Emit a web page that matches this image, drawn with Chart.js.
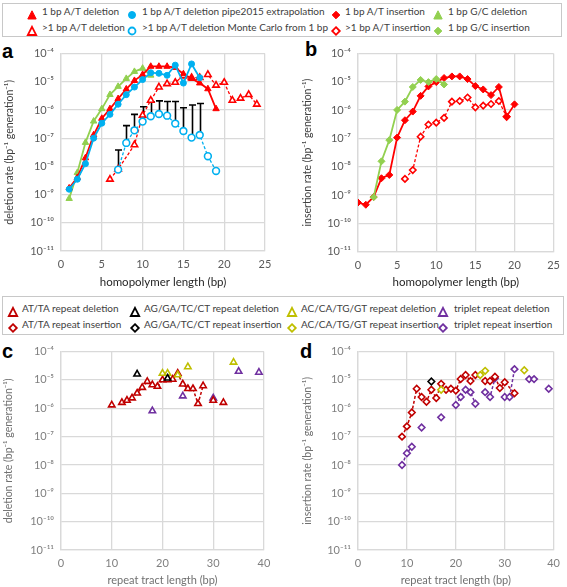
<!DOCTYPE html>
<html>
<head>
<meta charset="utf-8">
<script src="https://cdn.jsdelivr.net/npm/chart.js@4.4.1/dist/chart.umd.min.js"></script>
<style>
  body { margin: 0; background: #fff; }
  #fig { position: relative; width: 567px; height: 587px; overflow: hidden; font-family: Lato, 'Noto Sans', sans-serif; }
  #fig canvas { position: absolute; }
  .legend { position: absolute; border: 1px solid #c8c8c8; background: #fff; box-sizing: border-box; }
  .item { position: absolute; font-size: 10px; color: #404040; white-space: nowrap; line-height: 14px; }
  .mark { position: absolute; }
  .lbl { position: absolute; font: bold 20px 'Liberation Sans', Arial, sans-serif; color: #000; line-height: 20px; }
</style>
</head>
<body>
<div id="fig">
  <div class="legend" id="leg1" style="left:2px;top:3px;width:560px;height:34px"></div>
  <div class="legend" id="leg2" style="left:2px;top:296px;width:562px;height:39px"></div>
  <div class="lbl" style="left:2px;top:41px">a</div>
  <div class="lbl" style="left:305px;top:39px">b</div>
  <div class="lbl" style="left:2px;top:341px">c</div>
  <div class="lbl" style="left:300px;top:341px">d</div>
  <canvas id="chartA" width="285" height="252" style="left:0;top:40px"></canvas>
  <canvas id="chartB" width="277" height="252" style="left:290px;top:40px"></canvas>
  <canvas id="chartC" width="285" height="249" style="left:0;top:338px"></canvas>
  <canvas id="chartD" width="277" height="249" style="left:290px;top:338px"></canvas>
</div>
<script>
'use strict';

// ── Panel a: homopolymer deletions ────────────────────────
const delAT1X = [1,2,3,4,5,6,7,8,9,10,11,12,13,14,15,16,17,18,19];
const delAT1  = [1.7e-9,4e-9,2e-8,1.3e-7,5e-7,1.1e-6,2.5e-6,5.5e-6,1.1e-5,1.8e-5,3.5e-5,3.5e-5,3.5e-5,3.2e-5,1.9e-5,1.3e-5,9e-6,5.6e-6,1.1e-6];
const pipeX   = [1,2,3,4,5,6,7,8,9,10,11,12,13,14,15,16,17];
const pipeDel = [1.55e-9,3.5e-9,1.25e-8,1e-7,3.4e-7,7e-7,1.6e-6,3.5e-6,6.5e-6,1.2e-5,2.1e-5,2e-5,1.7e-5,3.9e-5,9e-6,4.3e-5,1.4e-5];
const delGC1X = [1,2,3,4,5,6,7,8,9,10,11];
const delGC1  = [7.2e-10,6e-9,7e-8,4e-7,1.1e-6,3.5e-6,6.8e-6,1.3e-5,2.3e-5,3e-5,1.7e-5];
const delATmX = [6,7,9,10,11,12,13,14,15,16,17,18,19,20,21,22,23,24];
const delATm  = [3.5e-9,8e-9,5.8e-8,6.5e-7,2.2e-6,6.5e-6,8.5e-6,9.5e-6,1.6e-5,1.4e-5,1.4e-5,1.8e-5,7.5e-6,9.5e-6,2.2e-6,2.6e-6,3.5e-6,1.6e-6];
const mcX     = [7,8,9,10,11,12,13,14,15,16,17,18,19];
const mcDel   = [7.7e-9,6.8e-8,1.9e-7,3.9e-7,6e-7,7.2e-7,6.3e-7,3.3e-7,1.8e-7,1.05e-7,1.3e-7,2.3e-8,6.9e-9];
const mcUpper = [3.8e-8,2.8e-7,7e-7,1.3e-6,1.9e-6,2.1e-6,2e-6,2e-6,1.2e-6,1.5e-6,1.7e-6];

// ── Panel b: homopolymer insertions ───────────────────────
const insAT1X = [0,1,2,3,4,5,6,7,8,9,10,11,12,13,14,15,16,17,18,19,20];
const insAT1  = [5.4e-10,4.5e-10,8.5e-10,3.9e-9,5.1e-9,1.07e-7,4.4e-7,8.9e-7,3.2e-6,6.9e-6,9.8e-6,1.37e-5,1.56e-5,1.56e-5,1.26e-5,7.1e-6,5.4e-6,3.4e-6,6.6e-6,6e-7,1.6e-6];
const insGC1X = [2,3,4,5,6,7,8,9,10,11];
const insGC1  = [8.3e-10,1.55e-8,8.7e-8,1.02e-6,2e-6,6.6e-6,1.17e-5,9.8e-6,1.26e-5,8.1e-6];
const insATmX = [6,7,8,9,10,11,12,13,14,15,16,17,18,19];
const insATm  = [3.7e-9,7.6e-9,1.15e-7,3.1e-7,3.6e-7,5.3e-7,2e-6,2.1e-6,2.8e-6,1.26e-6,1.45e-6,1.65e-6,2.1e-6,5.8e-7];

// ── Panel c: repeat tract deletions ───────────────────────
const atDelX  = [10,11,12,13,14,15,16,17,18,19,20,21,22,23,24,25,26,27,28,29,30,31,32];
const atDel   = [1.3e-6,null,1.6e-6,1.9e-6,2.3e-6,3.4e-6,5.4e-6,8.8e-6,6.7e-6,5.9e-6,1e-5,1e-5,1.05e-5,1.7e-5,7.1e-6,4.9e-6,4.9e-6,1.45e-6,6.2e-6,null,1.9e-6,null,1.6e-6];
const agDelX  = [15,21];
const agDel   = [1.6e-5,1.15e-5];
const acDelX  = [20,21,23,25,34];
const acDel   = [1.7e-5,1.7e-5,1.5e-5,2.9e-5,4.2e-5];
const triDelX = [18,24,30,35,39];
const triDel  = [8.1e-7,2.7e-6,2.3e-6,2e-5,1.85e-5];

// ── Panel d: repeat tract insertions ──────────────────────
const atInsX  = [9,10,11,12,13,14,15,16,17,18,19,20,21,22,23,24,26,27,28,29,30,32];
const atIns   = [1e-7,2.3e-7,7.1e-7,4.9e-6,2.5e-6,1.7e-6,4.5e-6,2.3e-6,7.3e-6,4.5e-6,4.9e-6,4.2e-6,1.08e-5,1.5e-5,9.2e-6,1.5e-5,9.2e-6,9.2e-6,1.3e-5,5.2e-6,8.3e-6,3.4e-6];
const agInsX  = [15];
const agIns   = [8.8e-6];
const acInsX  = [17,18,25,26,27,34];
const acIns   = [4.5e-6,null,1.5e-5,2.1e-5,null,2.2e-5];
const triInsX = [9,10,11,12,13,14,17,18,20,21,22,23,24,25,26,27,28,29,30,31,32,33,35,36,37,39];
const triIns  = [1e-8,2.6e-8,4.4e-8,null,2.1e-7,null,4.8e-7,null,1.3e-6,2.5e-6,4.5e-6,3.7e-6,1.45e-6,null,3.7e-6,2.5e-6,1.15e-5,null,2.5e-6,2.5e-6,2.4e-5,null,1.07e-5,1.07e-5,null,4.9e-6];

// ── Axis ticks ────────────────────────────────────────────
const rateTicks = [1e-11,1e-10,1e-9,1e-8,1e-7,1e-6,1e-5,1e-4];
const hpTicks   = [0,5,10,15,20,25];
const trTicks   = [0,10,20,30,40];

const FONT = "Lato, 'Noto Sans', sans-serif";
const RED = '#ff0000', BLUE = '#00b0f0', GREEN = '#92d050';
const DRED = '#c00000', OLIVE = '#bfbf00', PURPLE = '#7030a0';

const pts = (xs, ys) => xs.map((x, i) => ({ x, y: ys[i] }));

const SUP = { '-': '\u207b', '0': '\u2070', '1': '\u00b9', '2': '\u00b2', '3': '\u00b3', '4': '\u2074',
              '5': '\u2075', '6': '\u2076', '7': '\u2077', '8': '\u2078', '9': '\u2079' };
const pow10 = v => '10' + String(Math.round(Math.log10(v))).split('').map(c => SUP[c]).join('');

function series(xs, ys, col, style, filled, dashed, extra) {
    return Object.assign({
        data: pts(xs, ys),
        borderColor: col,
        backgroundColor: col,
        borderWidth: dashed ? 1.3 : 1.8,
        borderDash: dashed ? [3, 2] : [],
        pointStyle: style,
        pointRadius: style === 'circle' ? 3 : 3.7,
        pointBackgroundColor: filled ? col : '#ffffff',
        pointBorderColor: col,
        pointBorderWidth: filled ? 1 : 1.6,
        tension: 0,
        spanGaps: true,
    }, extra || {});
}

// black upper error bars on the Monte Carlo series
const errorBars = {
    id: 'errorBars',
    beforeDatasetsDraw(chart) {
        const { ctx, scales: { x, y } } = chart;
        ctx.save();
        ctx.strokeStyle = '#000';
        ctx.lineWidth = 1.6;
        mcUpper.forEach((hi, i) => {
            const px = Math.round(x.getPixelForValue(mcX[i])) + 0.5;
            const y0 = y.getPixelForValue(mcDel[i]);
            const y1 = y.getPixelForValue(hi);
            ctx.beginPath();
            ctx.moveTo(px, y0); ctx.lineTo(px, y1);
            ctx.moveTo(px - 3.5, y1); ctx.lineTo(px + 3.5, y1);
            ctx.stroke();
        });
        ctx.restore();
    }
};

function rateChart(id, cfg) {
    const dark = cfg.dark;
    return new Chart(document.getElementById(id), {
        type: 'line',
        data: { datasets: cfg.datasets },
        plugins: cfg.plugins || [],
        options: {
            responsive: false,
            animation: false,
            devicePixelRatio: 1,
            layout: { autoPadding: false, padding: { left: 0, top: cfg.pt, right: cfg.pr, bottom: 0 } },
            plugins: { legend: { display: false }, tooltip: { enabled: false } },
            scales: {
                x: {
                    type: 'linear',
                    min: 0, max: cfg.xmax,
                    afterBuildTicks: s => { s.ticks = cfg.xticks.map(v => ({ value: v })); },
                    afterFit: s => { s.height = cfg.xh; },
                    grid: { color: '#d9d9d9', lineWidth: 1.3, drawTicks: false },
                    border: { color: '#d9d9d9', width: 1.3 },
                    ticks: { padding: 7, color: dark ? '#595959' : '#7f7f7f', font: { family: FONT, size: 11 } },
                    title: {
                        display: true, text: cfg.xtitle,
                        color: dark ? '#262626' : '#707070',
                        font: { family: FONT, size: dark ? 11.5 : 11 },
                        padding: { top: 0, bottom: cfg.xtp }
                    }
                },
                y: {
                    type: 'logarithmic',
                    min: 1e-11, max: 1e-4,
                    afterBuildTicks: s => { s.ticks = rateTicks.map(v => ({ value: v })); },
                    afterFit: s => { s.width = cfg.yw; },
                    grid: { color: '#d9d9d9', lineWidth: 1.3, drawTicks: false },
                    border: { color: '#d9d9d9', width: 1.3 },
                    ticks: { padding: 7, color: dark ? '#595959' : '#7f7f7f', font: { family: FONT, size: 11 }, callback: v => pow10(v) },
                    title: {
                        display: true, text: cfg.ytitle,
                        color: dark ? '#404040' : '#707070',
                        font: { family: FONT, size: 10.5 },
                        padding: { top: cfg.ytp, bottom: 0 }
                    }
                }
            }
        }
    });
}

// ── Panels ────────────────────────────────────────────────
rateChart('chartA', {
    dark: true, xmax: 25, xticks: hpTicks, pt: 7, pr: 20, xh: 41, yw: 61, xtp: 3, ytp: 3,
    xtitle: 'homopolymer length (bp)',
    ytitle: 'deletion rate (bp\u207b\u00b9 generation\u207b\u00b9)',
    plugins: [errorBars],
    datasets: [
        series(pipeX, pipeDel, BLUE, 'circle', true, false),
        series(delAT1X, delAT1, RED, 'triangle', true, false),
        series(delGC1X, delGC1, GREEN, 'triangle', true, false),
        series(mcX, mcDel, BLUE, 'circle', false, true, { pointRadius: 3.4 }),
        series(delATmX, delATm, RED, 'triangle', false, true),
    ]
});

rateChart('chartB', {
    dark: true, xmax: 25, xticks: hpTicks, pt: 8.5, pr: 4.5, xh: 40.5, yw: 68, xtp: 3, ytp: 11,
    xtitle: 'homopolymer length (bp)',
    ytitle: 'insertion rate (bp\u207b\u00b9 generation\u207b\u00b9)',
    datasets: [
        series(insGC1X, insGC1, GREEN, 'rectRot', true, false, { pointRadius: 3.5 }),
        series(insAT1X, insAT1, RED, 'rectRot', true, false, { pointRadius: 3.5 }),
        series(insATmX, insATm, RED, 'rectRot', false, true, { pointRadius: 3.2 }),
    ]
});

rateChart('chartC', {
    dark: false, xmax: 40, xticks: trTicks, pt: 8, pr: 21, xh: 37, yw: 61, xtp: 0, ytp: 2,
    xtitle: 'repeat tract length (bp)',
    ytitle: 'deletion rate (bp\u207b\u00b9 generation\u207b\u00b9)',
    datasets: [
        series(agDelX, agDel, '#000000', 'triangle', false, false, { showLine: false }),
        series(acDelX, acDel, OLIVE, 'triangle', false, false, { showLine: false }),
        series(atDelX, atDel, DRED, 'triangle', false, true, { spanGaps: false, borderWidth: 1.5 }),
        series(triDelX, triDel, PURPLE, 'triangle', false, false, { showLine: false }),
    ]
});

rateChart('chartD', {
    dark: false, xmax: 40, xticks: trTicks, pt: 8.5, pr: 6.3, xh: 37, yw: 68, xtp: 0, ytp: 11,
    xtitle: 'repeat tract length (bp)',
    ytitle: 'insertion rate (bp\u207b\u00b9 generation\u207b\u00b9)',
    datasets: [
        series(agInsX, agIns, '#000000', 'rectRot', false, false, { showLine: false, pointRadius: 3.3 }),
        series(acInsX, acIns, OLIVE, 'rectRot', false, false, { spanGaps: false, pointRadius: 3.3 }),
        series(atInsX, atIns, DRED, 'rectRot', false, true, { borderWidth: 1.5, pointRadius: 3.3 }),
        series(triInsX, triIns, PURPLE, 'rectRot', false, true, { spanGaps: false, borderWidth: 1.5, pointRadius: 3.3 }),
    ]
});

// ── Legends (HTML) ────────────────────────────────────────
const topLegend = [
    ['1 bp A/T deletion', 'tri', RED, true],
    ['1 bp A/T deletion pipe2015 extrapolation', 'circ', BLUE, true],
    ['1 bp A/T insertion', 'dia', RED, true],
    ['1 bp G/C deletion', 'tri', GREEN, true],
    ['>1 bp A/T deletion', 'tri', RED, false],
    ['>1 bp A/T deletion Monte Carlo from 1 bp', 'circ', BLUE, false],
    ['>1 bp A/T insertion', 'dia', RED, false],
    ['1 bp G/C insertion', 'dia', GREEN, true],
];
const repLegend = [
    ['AT/TA repeat deletion', 'tri', DRED, false],
    ['AG/GA/TC/CT repeat deletion', 'tri', '#000000', false],
    ['AC/CA/TG/GT repeat deletion', 'tri', OLIVE, false],
    ['triplet repeat deletion', 'tri', PURPLE, false],
    ['AT/TA repeat insertion', 'dia', DRED, false],
    ['AG/GA/TC/CT repeat insertion', 'dia', '#000000', false],
    ['AC/CA/TG/GT repeat insertion', 'dia', OLIVE, false],
    ['triplet repeat insertion', 'dia', PURPLE, false],
];

function markerSvg(shape, col, filled) {
    const fill = filled ? col : '#fff';
    const sw = filled ? 1 : 1.8;
    let body;
    if (shape === 'tri') body = `<polygon points="6,1.8 10.2,10 1.8,10" fill="${fill}" stroke="${col}" stroke-width="${sw}"/>`;
    else if (shape === 'circ') body = `<circle cx="6" cy="6" r="3.5" fill="${fill}" stroke="${col}" stroke-width="${sw}"/>`;
    else body = `<polygon points="6,2.2 9.8,6 6,9.8 2.2,6" fill="${fill}" stroke="${col}" stroke-width="${sw}"/>`;
    return `<svg width="12" height="12" viewBox="0 0 12 12">${body}</svg>`;
}

function buildLegend(el, items, rows, markX, textX) {
    const box = document.getElementById(el);
    const ox = box.offsetLeft + 1, oy = box.offsetTop + 1;
    items.forEach(([txt, shape, col, filled], i) => {
        const c = i % 4, r = Math.floor(i / 4);
        const m = document.createElement('div');
        m.className = 'mark';
        m.style.left = (markX[c] - 6 - ox) + 'px';
        m.style.top = (rows[r] - 6 - oy) + 'px';
        m.innerHTML = markerSvg(shape, col, filled);
        box.appendChild(m);
        const t = document.createElement('div');
        t.className = 'item';
        t.textContent = txt;
        t.style.left = (textX[c] - ox) + 'px';
        t.style.top = (rows[r] - 7 - oy) + 'px';
        box.appendChild(t);
    });
}

buildLegend('leg1', topLegend, [11, 27], [32, 132, 336, 438], [42, 142, 345, 448]);
buildLegend('leg2', repLegend, [307.5, 323.5], [13, 135, 292, 443], [22, 144, 301, 454]);
</script>
</body>
</html>
